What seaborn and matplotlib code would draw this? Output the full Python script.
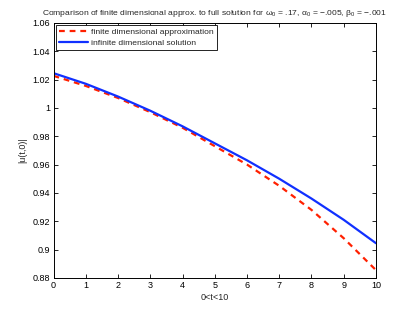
import matplotlib
matplotlib.use("Agg")
import matplotlib.pyplot as plt
import seaborn as sns
import pandas as pd

t = [0, 1, 2, 3, 4, 5, 6, 7, 8, 9, 10]
finite = [1.0226, 1.0155, 1.007, 0.997, 0.986, 0.973, 0.960, 0.945, 0.928, 0.908, 0.8855]
infinite = [1.0245, 1.017, 1.008, 0.998, 0.987, 0.975, 0.963, 0.950, 0.936, 0.921, 0.9045]
labels = ["finite dimensional approximation", "infinite dimensional solution"]

sns.set_style("white")
plt.rcParams['font.family'] = ['Liberation Sans', 'DejaVu Sans']
plt.rcParams['mathtext.fontset'] = 'custom'
plt.rcParams['mathtext.rm'] = 'Liberation Sans'
plt.rcParams['mathtext.it'] = 'Liberation Sans'

fig = plt.figure(figsize=(4.15, 3.13), dpi=100)
ax = fig.add_axes([0.129, 0.112, 0.777, 0.815])

df = pd.DataFrame({"t": t + t, "v": finite + infinite,
                   "s": [labels[0]] * len(t) + [labels[1]] * len(t)})
sns.lineplot(data=df[df.s == labels[0]], x="t", y="v", ax=ax, color="#ff2000",
             lw=1.6, linestyle=(0, (2.6, 2.2)), label=labels[0])
sns.lineplot(data=df[df.s == labels[1]], x="t", y="v", ax=ax, color="#1030ff",
             lw=1.6, label=labels[1])

ax.set_xlim(0, 10)
ax.set_ylim(0.88, 1.06)
ax.set_xticks(range(0, 11))
yt = [0.88, 0.9, 0.92, 0.94, 0.96, 0.98, 1.0, 1.02, 1.04, 1.06]
ax.set_yticks(yt)
ax.set_yticklabels(["0.88", "0.9", "0.92", "0.94", "0.96", "0.98", "1", "1.02", "1.04", "1.06"])
ax.tick_params(direction="in", length=3, width=0.6, labelsize=6.5, top=True, right=True,
               bottom=True, left=True, pad=2.5, colors="black")
for sp in ax.spines.values():
    sp.set_color("black")
    sp.set_linewidth(0.7)
ax.set_xlabel("0<t<10", fontsize=6.5, labelpad=2)
ax.set_ylabel("|u(t,0)|", fontsize=6.5, labelpad=4)
ax.set_title(r"Comparison of finite dimensional approx. to full solution for $\omega_0$ = .17, $\alpha_0$ = $-$.005, $\beta_0$ = $-$.001",
             fontsize=6.1, pad=6)
leg = ax.legend(loc="upper left", fontsize=6.1, frameon=True, fancybox=False,
                edgecolor="black", framealpha=1, borderpad=0.35, labelspacing=0.3,
                handlelength=3.4, handletextpad=0.4, borderaxespad=0.3)
leg.get_frame().set_linewidth(0.6)

fig.savefig("out.png", dpi=100)
